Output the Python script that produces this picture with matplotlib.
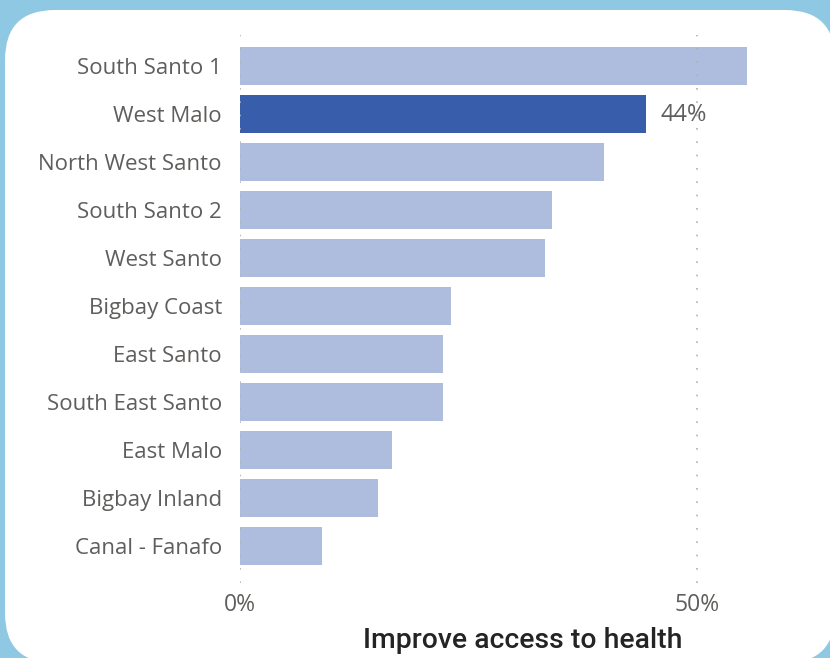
import matplotlib
matplotlib.use("Agg")
import matplotlib.pyplot as plt
from matplotlib.patches import FancyBboxPatch

# --- veri
regions = ["South Santo 1", "West Malo", "North West Santo", "South Santo 2", "West Santo",
           "Bigbay Coast", "East Santo", "South East Santo", "East Malo", "Bigbay Inland",
           "Canal - Fanafo"]
values = [55.5, 44.4, 39.9, 34.2, 33.4, 23.1, 22.2, 22.2, 16.6, 15.1, 9.0]
highlight = "West Malo"
xticks = [0, 50]
xtick_labels = ["0%", "50%"]
title = "Improve access to health"

light = "#AEBDDD"
dark = "#375DAB"
grey = "#605E5C"

fig = plt.figure(figsize=(8.3, 6.58), dpi=100, facecolor="#8FC8E3")

# beyaz yuvarlak panel
panel = FancyBboxPatch((0.05, -0.05), 8.3, 6.53, boxstyle="round,pad=0,rounding_size=0.5",
                       transform=fig.dpi_scale_trans, facecolor="white", edgecolor="none",
                       zorder=-10)
fig.patches.append(panel)

ax = fig.add_axes([240 / 830, 1 - 583 / 658, 548 / 830, 548 / 658])
ax.set_facecolor("none")
ax.set_zorder(1)

ypos = list(range(len(regions)))
colors = [dark if r == highlight else light for r in regions]
ax.barh(ypos, values, height=0.79, color=colors, zorder=2)

ax.set_xlim(0, 60)
ax.set_ylim(10 + 37 / 48, -31 / 48)

for x in xticks:
    ax.axvline(x, color="#B0B0B0", linewidth=1.2, linestyle=(0, (1, 7)), zorder=3)

ax.set_yticks(ypos)
ax.set_yticklabels(regions, fontsize=16, color=grey, fontfamily="Open Sans")
ax.set_xticks(xticks)
ax.set_xticklabels(xtick_labels, fontsize=16.5, color=grey, fontfamily="Open Sans")
ax.tick_params(axis="y", length=0, pad=13)
ax.tick_params(axis="x", length=0, pad=7)
for s in ax.spines.values():
    s.set_visible(False)

# vurgulanan çubuk etiketi
i = regions.index(highlight)
ax.annotate(f"{values[i]:.0f}%", (values[i], ypos[i]), xytext=(11, -1), textcoords="offset points",
            va="center", ha="left", fontsize=17, color=grey, fontfamily="Open Sans")

fig.text(523 / 830, 1 - 641 / 658, title, ha="center", va="center", fontsize=20.4,
         fontweight="medium", color="#252423", fontfamily="Roboto")

fig.savefig("out.png", dpi=100, facecolor=fig.get_facecolor())
